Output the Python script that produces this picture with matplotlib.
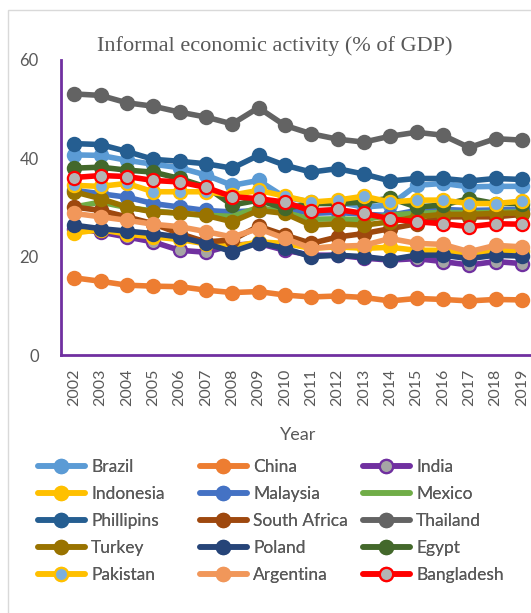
import matplotlib

matplotlib.use("Agg")
import matplotlib.pyplot as plt
from matplotlib.patches import Rectangle

YEARS = list(range(2002, 2020))

COUNTRIES = [
    "Brazil", "China", "India",
    "Indonesia", "Malaysia", "Mexico",
    "Phillipins", "South Africa", "Thailand",
    "Turkey", "Poland", "Egypt",
    "Pakistan", "Argentina", "Bangladesh",
]

brazil = [40.7, 40.6, 39.6, 38.8, 38.1, 36.6, 34.5, 35.5, 32.1, 31.1, 31.1, 30.1, 30.5, 34.5, 34.9, 34.2, 34.3, 34.3]
china = [15.7, 15.0, 14.2, 14.0, 13.9, 13.2, 12.7, 12.9, 12.2, 11.8, 12.0, 11.7, 11.0, 11.5, 11.3, 11.0, 11.3, 11.2]
india = [25.7, 25.0, 24.0, 23.0, 21.3, 20.9, 22.3, 22.7, 21.3, 20.3, 20.3, 19.7, 19.3, 19.6, 19.0, 18.3, 19.0, 18.6]
indonesia = [24.8, 25.5, 24.6, 24.0, 23.5, 22.6, 22.0, 23.0, 22.7, 21.7, 22.0, 21.7, 21.9, 21.3, 21.3, 20.6, 21.3, 21.2]
malaysia = [33.5, 32.8, 32.1, 30.8, 30.1, 29.4, 29.1, 29.4, 29.8, 28.8, 29.0, 28.6, 28.4, 29.4, 29.6, 29.4, 29.5, 29.6]
mexico = [30.1, 31.1, 30.0, 29.3, 28.8, 28.4, 28.2, 30.0, 29.0, 27.6, 27.7, 27.5, 28.5, 28.8, 29.0, 28.9, 29.0, 29.1]
phillipins = [43.0, 42.8, 41.4, 39.8, 39.4, 38.9, 38.0, 40.6, 38.6, 37.2, 37.9, 36.8, 35.4, 35.9, 35.9, 35.4, 35.9, 35.7]
south_africa = [30.1, 29.4, 28.1, 26.7, 24.7, 23.0, 23.4, 26.2, 24.4, 22.7, 24.0, 24.7, 25.7, 26.7, 28.1, 28.1, 28.1, 28.6]
thailand = [53.1, 52.8, 51.3, 50.6, 49.4, 48.4, 47.0, 50.3, 46.7, 45.0, 43.9, 43.3, 44.5, 45.3, 44.7, 42.2, 44.0, 43.7]
turkey = [33.2, 31.8, 30.1, 29.1, 28.9, 28.4, 27.1, 29.4, 28.8, 26.4, 26.7, 26.4, 27.1, 28.1, 28.6, 28.6, 28.8, 28.9]
poland = [26.4, 25.7, 25.2, 24.7, 24.0, 22.7, 21.0, 22.8, 21.7, 20.0, 20.3, 20.0, 19.4, 20.3, 20.3, 19.6, 20.3, 20.1]
egypt = [38.0, 38.2, 37.6, 37.2, 35.9, 34.2, 30.5, 31.5, 29.8, 30.8, 30.8, 31.1, 31.9, 30.1, 30.5, 31.8, 30.8, 30.8]
pakistan = [34.5, 34.3, 34.9, 33.2, 33.2, 33.2, 32.5, 33.5, 32.3, 31.1, 31.5, 32.3, 31.1, 31.5, 31.5, 30.8, 30.8, 31.3]
argentina = [28.8, 28.1, 27.4, 26.6, 26.1, 25.1, 24.0, 25.7, 23.7, 21.7, 22.1, 22.3, 23.7, 22.7, 22.5, 21.0, 22.3, 22.0]
bangladesh = [36.1, 36.5, 36.3, 35.5, 35.2, 34.1, 32.2, 31.8, 31.1, 29.3, 29.6, 28.8, 27.7, 27.1, 26.7, 26.1, 26.7, 26.6]

SERIES = [brazil, china, india, indonesia, malaysia, mexico, phillipins, south_africa,
          thailand, turkey, poland, egypt, pakistan, argentina, bangladesh]

# (line colour, marker face, marker edge); None face -> no marker
STYLES = {
    "Brazil": ("#5B9BD5", "#5B9BD5", "#5B9BD5"),
    "China": ("#ED7D31", "#ED7D31", "#ED7D31"),
    "India": ("#7030A0", "#A5A5A5", "#7030A0"),
    "Indonesia": ("#FFC000", "#FFC000", "#FFC000"),
    "Malaysia": ("#4472C4", "#4472C4", "#4472C4"),
    "Mexico": ("#70AD47", None, None),
    "Phillipins": ("#255E91", "#255E91", "#255E91"),
    "South Africa": ("#9E480E", "#9E480E", "#9E480E"),
    "Thailand": ("#636363", "#636363", "#636363"),
    "Turkey": ("#997300", "#997300", "#997300"),
    "Poland": ("#264478", "#264478", "#264478"),
    "Egypt": ("#43682B", "#43682B", "#43682B"),
    "Pakistan": ("#FFC000", "#7CAFDD", "#FFC000"),
    "Argentina": ("#F1975A", "#F1975A", "#F1975A"),
    "Bangladesh": ("#FF0000", "#B4B4B4", "#FF0000"),
}

TEXT = "#595959"
AXIS = "#7030A0"
SANS = ["Lato", "DejaVu Sans"]

fig = plt.figure(figsize=(5.31, 6.13), dpi=100)
fig.patches.append(Rectangle((8 / 531, -0.1), 1.2, 1 - 10 / 613 + 0.1, transform=fig.transFigure,
                             fill=False, edgecolor="#D9D9D9", linewidth=1))

ax = fig.add_axes([61 / 531, 1 - 355 / 613, 474 / 531, 295 / 613])
x = list(range(len(YEARS)))
handles = []
for name, vals in zip(COUNTRIES, SERIES):
    line_c, face, edge = STYLES[name]
    if face is None:
        (h,) = ax.plot(x, vals, color=line_c, lw=4, solid_capstyle="round", label=name)
    else:
        (h,) = ax.plot(x, vals, color=line_c, lw=4, marker="o", ms=9.5,
                       markerfacecolor=face, markeredgecolor=edge, markeredgewidth=1.6,
                       solid_capstyle="round", label=name)
    handles.append(h)

ax.set_xlim(-0.5, len(YEARS) - 0.5)
ax.set_ylim(0, 60)
ax.set_yticks([0, 20, 40, 60])
ax.set_xticks(x)
ax.set_xticklabels([str(y) for y in YEARS], rotation=90, family=SANS, fontsize=11.5, color=TEXT)
for lbl in ax.get_yticklabels():
    lbl.set_family(SANS)
    lbl.set_fontsize(12)
    lbl.set_color(TEXT)
ax.tick_params(axis="both", length=0)
ax.tick_params(axis="y", pad=16)
ax.tick_params(axis="x", pad=10)
for s in ("top", "right"):
    ax.spines[s].set_visible(False)
for s in ("left", "bottom"):
    ax.spines[s].set_color(AXIS)
    ax.spines[s].set_linewidth(2)
ax.set_xlabel("Year", family=SANS, fontsize=13, color=TEXT, labelpad=15)

fig.text(0.518, 1 - 46 / 613, "Informal economic activity (% of GDP)", ha="center", va="center",
         family="Liberation Serif", fontsize=16, color=TEXT)

# legend laid out as three columns, filled row by row
col_x = [38 / 531, 200 / 531, 363 / 531]
for k in range(3):
    leg = fig.legend(handles=handles[k::3], loc="upper left", bbox_to_anchor=(col_x[k], 1 - 459 / 613),
                     frameon=False, prop={"family": SANS, "size": 12.5}, labelcolor=TEXT,
                     handlelength=2.7, handletextpad=0.35, labelspacing=0.63, borderpad=0, borderaxespad=0)
    fig.add_artist(leg)

fig.savefig("out.png", dpi=100)
